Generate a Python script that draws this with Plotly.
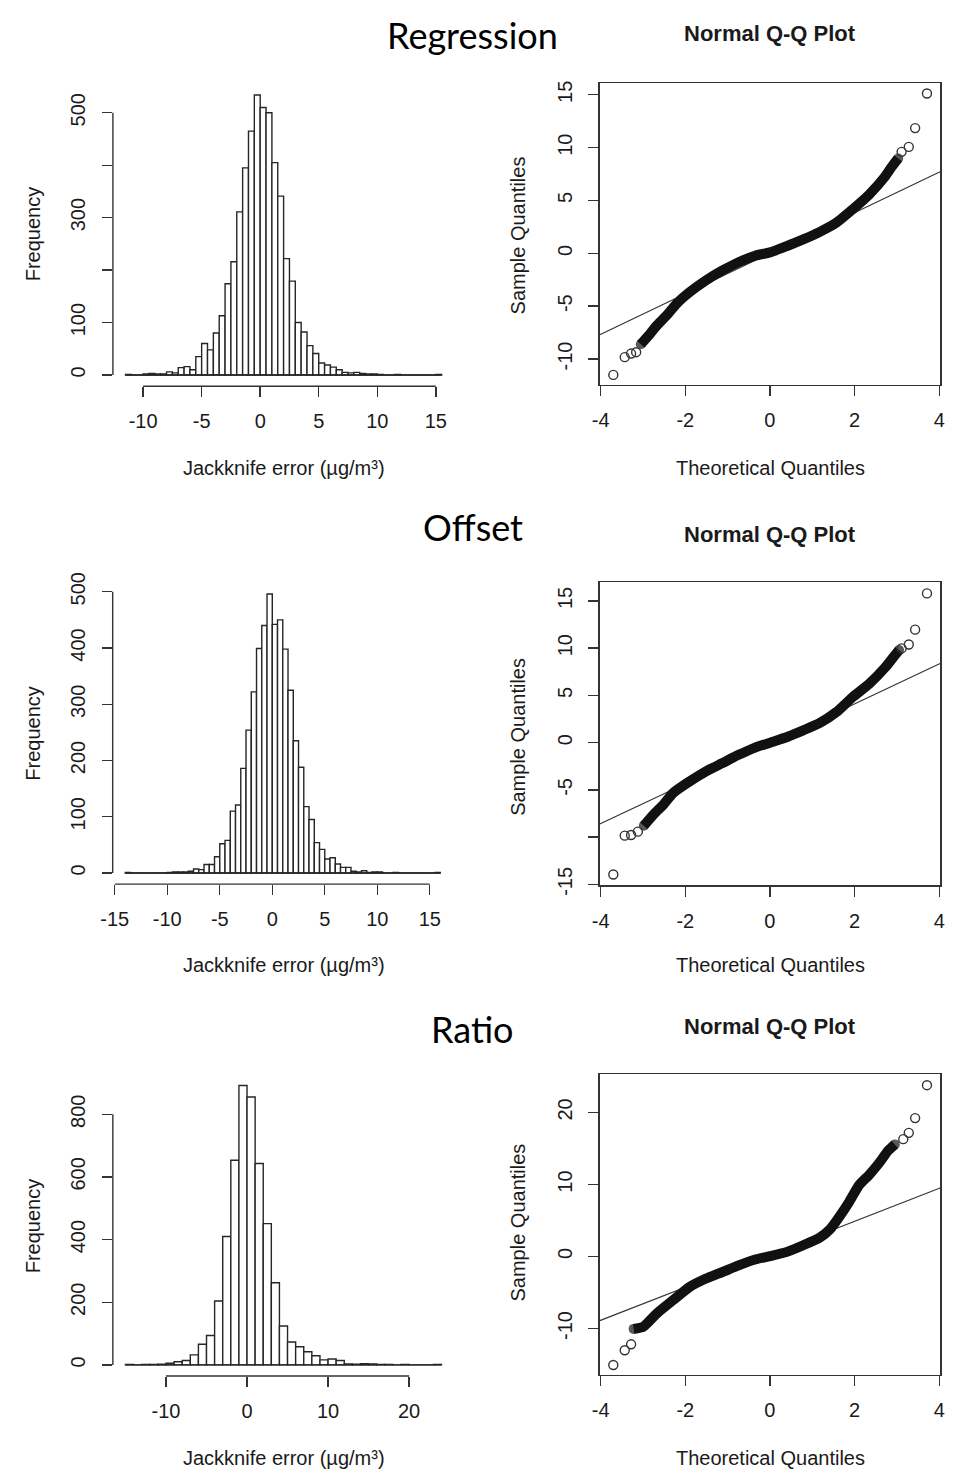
import plotly.graph_objects as go

W, H = 953, 1481

# ---------------- data ----------------
row_titles = ["Regression", "Offset", "Ratio"]
qq_title = "Normal Q-Q Plot"
hist_xlabel = "Jackknife error (µg/m³)"
hist_ylabel = "Frequency"
qq_xlabel = "Theoretical Quantiles"
qq_ylabel = "Sample Quantiles"

# histogram 1 : Regression (bins of 0.5 starting at -11.5)
reg_bin_start = -11.5
reg_bin_width = 0.5
reg_counts = [1, 0, 0, 2, 3, 2, 2, 6, 4, 14,
              16, 10, 35, 60, 48, 80, 113, 174, 216, 311,
              395, 465, 534, 510, 500, 405, 341, 222, 179, 100,
              82, 56, 41, 23, 19, 15, 10, 5, 4, 5,
              3, 2, 2, 1, 0, 0, 1, 0, 0, 0,
              0, 0, 0, 1]
reg_xticks = [-10, -5, 0, 5, 10, 15]
reg_yticks = [0, 100, 200, 300, 400, 500]
reg_ytext = ["0", "100", "", "300", "", "500"]

# histogram 2 : Offset (bins of 0.5 starting at -14)
off_bin_start = -14.0
off_bin_width = 0.5
off_counts = [1, 0, 0, 0, 0, 0, 0, 0, 1, 2,
              2, 2, 3, 7, 6, 15, 15, 29, 52, 58,
              110, 121, 186, 254, 322, 399, 440, 496, 442, 450,
              398, 325, 235, 188, 118, 95, 54, 42, 25, 27,
              16, 10, 10, 3, 2, 4, 1, 2, 2, 0,
              0, 1, 0, 0, 0, 0, 0, 0, 0, 1]
off_xticks = [-15, -10, -5, 0, 5, 10, 15]
off_yticks = [0, 100, 200, 300, 400, 500]
off_ytext = ["0", "100", "200", "300", "400", "500"]

# histogram 3 : Ratio (bins of 1 starting at -15)
rat_bin_start = -15.0
rat_bin_width = 1.0
rat_counts = [1, 0, 1, 1, 2, 5, 10, 14, 32, 66,
              94, 204, 410, 653, 892, 855, 643, 451, 262, 124,
              73, 58, 42, 29, 16, 19, 14, 3, 2, 4,
              3, 1, 1, 0, 1, 0, 0, 0, 1]
rat_xticks = [-10, 0, 10, 20]
rat_yticks = [0, 200, 400, 600, 800]
rat_ytext = ["0", "200", "400", "600", "800"]

# Q-Q plots: dense band of points (centre line) + isolated tail points + qqline
qq_xticks = [-4, -2, 0, 2, 4]

qq1_band_x = [-3.05, -2.82, -2.66, -2.43, -2.20, -1.89, -1.51, -1.12, -0.74, -0.35,
              0.0, 0.42, 0.80, 1.18, 1.57, 1.95, 2.34, 2.72, 2.88, 3.03]
qq1_band_y = [-8.6, -7.55, -6.77, -5.83, -4.74, -3.65, -2.56, -1.62, -0.84, -0.22,
              0.09, 0.72, 1.34, 2.03, 2.90, 4.15, 5.55, 7.27, 8.2, 8.98]
qq1_out_x = [-3.70, -3.43, -3.28, -3.16, 3.11, 3.28, 3.43, 3.71]
qq1_out_y = [-11.5, -9.82, -9.48, -9.35, 9.6, 10.07, 11.85, 15.12]
qq1_line_x = [-4.02, 4.02]
qq1_line_y = [-7.70, 7.73]
qq1_yticks = [-10, -5, 0, 5, 10, 15]
qq1_ytext = ["-10", "-5", "0", "5", "10", "15"]

qq2_band_x = [-2.98, -2.74, -2.51, -2.28, -1.89, -1.51, -1.12, -0.74, -0.35, 0.0,
              0.42, 0.80, 1.18, 1.57, 1.95, 2.34, 2.72, 2.95, 3.05]
qq2_band_y = [-8.8, -7.57, -6.52, -5.30, -4.08, -3.03, -2.16, -1.29, -0.52, 0.0,
              0.63, 1.33, 2.09, 3.24, 4.81, 6.21, 7.95, 9.25, 9.8]
qq2_out_x = [-3.70, -3.43, -3.28, -3.12, 3.11, 3.28, 3.43, 3.71]
qq2_out_y = [-13.95, -9.84, -9.77, -9.42, 9.98, 10.39, 11.96, 15.8]
qq2_line_x = [-4.02, 4.02]
qq2_line_y = [-8.62, 8.37]
qq2_yticks = [-15, -10, -5, 0, 5, 10, 15]
qq2_ytext = ["-15", "", "-5", "0", "5", "10", "15"]

qq3_band_x = [-3.22, -3.00, -2.89, -2.66, -2.28, -1.89, -1.51, -1.12, -0.74, -0.35,
              0.0, 0.42, 0.80, 1.18, 1.42, 1.65, 1.88, 2.11, 2.34, 2.57, 2.80, 2.95]
qq3_band_y = [-10.05, -9.8, -9.22, -7.85, -6.03, -4.2, -3.06, -2.15, -1.23, -0.41,
              0.05, 0.68, 1.60, 2.65, 3.79, 5.62, 7.67, 9.95, 11.32, 12.92, 14.75, 15.57]
qq3_out_x = [-3.70, -3.43, -3.28, 3.15, 3.28, 3.43, 3.71]
qq3_out_y = [-15.07, -13.01, -12.19, 16.3, 17.17, 19.22, 23.79]
qq3_line_x = [-4.02, 4.02]
qq3_line_y = [-8.9, 9.5]
qq3_yticks = [-10, 0, 10, 20]
qq3_ytext = ["-10", "0", "10", "20"]

# ---------------- layout geometry (pixels) ----------------
FONT = "Liberation Sans, Arial, sans-serif"
TXT = "#1a1a1a"
LINE = "#333333"

def fx(px):
    return px / W

def fy(py):
    return 1 - py / H

# (x zero px, px per unit, x range, y zero px, px per unit, y range)
geom = {
    1: (252.7, 11.92, [-12.58, 16.58], 369.5, 0.5324, [-21.4, 555.4]),
    2: (265.0, 10.69, [-15.2, 17.2], 875.0, 0.571, [-19.8, 515.8]),
    3: (239.3, 8.25, [-16.56, 25.56], 1374.3, 0.318, [-35.7, 927.7]),
    4: (771.7, 43.1, [-4.02, 4.02], 246.0, 10.73, [-12.42, 16.09]),
    5: (771.7, 43.1, [-4.02, 4.02], 742.7, 9.59, [-15.08, 16.97]),
    6: (771.7, 43.1, [-4.02, 4.02], 1264.3, 7.31, [-16.42, 25.35]),
}

def domains(k):
    x0, sx, xr, y0, sy, yr = geom[k]
    xd = [fx(x0 + xr[0] * sx), fx(x0 + xr[1] * sx)]
    yd = [fy(y0 - yr[0] * sy), fy(y0 - yr[1] * sy)]
    return xd, yd

fig = go.Figure()
layout = dict(width=W, height=H, margin=dict(l=0, r=0, t=0, b=0),
              paper_bgcolor="white", plot_bgcolor="white", showlegend=False)
shapes = []
annotations = []

tickfont = dict(family=FONT, size=20, color=TXT)

def axname(k, a):
    return a + ("axis" if k == 1 else "axis%d" % k)

def ref(k, a):
    return a if k == 1 else "%s%d" % (a, k)

hists = [
    (1, reg_bin_start, reg_bin_width, reg_counts, reg_xticks, reg_yticks, reg_ytext),
    (2, off_bin_start, off_bin_width, off_counts, off_xticks, off_yticks, off_ytext),
    (3, rat_bin_start, rat_bin_width, rat_counts, rat_xticks, rat_yticks, rat_ytext),
]

for k, start, width, counts, xt, yt, ytx in hists:
    xd, yd = domains(k)
    _, _, xr, _, _, yr = geom[k]
    centers = [start + width * (i + 0.5) for i in range(len(counts))]
    fig.add_trace(go.Bar(x=centers, y=counts, width=width,
                         marker=dict(color="white", line=dict(color="#262626", width=1.4)),
                         xaxis=ref(k, "x"), yaxis=ref(k, "y"), hoverinfo="skip"))
    end = start + width * len(counts)
    fig.add_trace(go.Scatter(x=[start, end], y=[0, 0], mode="lines",
                             line=dict(color="#262626", width=1.4),
                             xaxis=ref(k, "x"), yaxis=ref(k, "y"), hoverinfo="skip"))
    layout[axname(k, "x")] = dict(domain=xd, range=xr, anchor=ref(k, "y"),
                                  showline=False, showgrid=False, zeroline=False,
                                  ticks="outside", ticklen=10, tickwidth=1.4, tickcolor=LINE,
                                  tickvals=xt, ticktext=[str(v) for v in xt],
                                  tickfont=tickfont, ticklabelstandoff=7, fixedrange=True)
    layout[axname(k, "y")] = dict(domain=yd, range=yr, anchor=ref(k, "x"),
                                  showline=False, showgrid=False, zeroline=False,
                                  ticks="outside", ticklen=10, tickwidth=1.4, tickcolor=LINE,
                                  tickvals=yt, ticktext=ytx, tickangle=-90,
                                  tickfont=tickfont, ticklabelstandoff=9, fixedrange=True)
    shapes.append(dict(type="line", xref=ref(k, "x"), yref="paper",
                       x0=xt[0], x1=xt[-1], y0=yd[0], y1=yd[0],
                       line=dict(color=LINE, width=1.4)))
    shapes.append(dict(type="line", xref="paper", yref=ref(k, "y"),
                       x0=xd[0], x1=xd[0], y0=yt[0], y1=yt[-1],
                       line=dict(color=LINE, width=1.4)))

qqs = [
    (4, qq1_band_x, qq1_band_y, qq1_out_x, qq1_out_y, qq1_line_x, qq1_line_y, qq1_yticks, qq1_ytext),
    (5, qq2_band_x, qq2_band_y, qq2_out_x, qq2_out_y, qq2_line_x, qq2_line_y, qq2_yticks, qq2_ytext),
    (6, qq3_band_x, qq3_band_y, qq3_out_x, qq3_out_y, qq3_line_x, qq3_line_y, qq3_yticks, qq3_ytext),
]

for k, bx, by, ox, oy, lx, ly, yt, ytx in qqs:
    xd, yd = domains(k)
    _, _, xr, _, _, yr = geom[k]
    fig.add_trace(go.Scatter(x=lx, y=ly, mode="lines", line=dict(color="#333333", width=1.1),
                             xaxis=ref(k, "x"), yaxis=ref(k, "y"), hoverinfo="skip"))
    # round the ends of the dense band with filled dots at its first / last point
    end_sizes = [10] + [0] * (len(bx) - 2) + [10]
    fig.add_trace(go.Scatter(x=bx, y=by, mode="lines+markers",
                             line=dict(color="#111111", width=10, shape="spline", smoothing=0.6),
                             marker=dict(size=end_sizes, color="#111111", line=dict(width=0)),
                             xaxis=ref(k, "x"), yaxis=ref(k, "y"), hoverinfo="skip"))
    fig.add_trace(go.Scatter(x=ox, y=oy, mode="markers",
                             marker=dict(symbol="circle-open", size=9, color="#333333",
                                         line=dict(width=1.4)),
                             xaxis=ref(k, "x"), yaxis=ref(k, "y"), hoverinfo="skip"))
    layout[axname(k, "x")] = dict(domain=xd, range=xr, anchor=ref(k, "y"),
                                  showline=True, mirror=True, linecolor=LINE, linewidth=1.4,
                                  showgrid=False, zeroline=False,
                                  ticks="outside", ticklen=10, tickwidth=1.4, tickcolor=LINE,
                                  tickvals=qq_xticks, ticktext=[str(v) for v in qq_xticks],
                                  tickfont=tickfont, ticklabelstandoff=7, fixedrange=True)
    layout[axname(k, "y")] = dict(domain=yd, range=yr, anchor=ref(k, "x"),
                                  showline=True, mirror=True, linecolor=LINE, linewidth=1.4,
                                  showgrid=False, zeroline=False,
                                  ticks="outside", ticklen=10, tickwidth=1.4, tickcolor=LINE,
                                  tickvals=yt, ticktext=ytx, tickangle=-90,
                                  tickfont=tickfont, ticklabelstandoff=8, fixedrange=True)

# ---------------- text ----------------
lab = dict(family=FONT, size=20, color=TXT)
row_title_y = [24, 524, 1033]
qq_title_y = [23, 531, 1031]
xlab_y = [464, 968, 1469]
ylab_y_hist = [226, 733, 1233]
ylab_y_qq = [228, 737, 1230]

for i in range(3):
    annotations.append(dict(text=row_titles[i], x=fx(469), y=fy(row_title_y[i]),
                            xref="paper", yref="paper", showarrow=False,
                            xanchor="center", yanchor="middle",
                            font=dict(family="Lato, Carlito, Calibri, sans-serif", size=36, color="black")))
    annotations.append(dict(text="<b>%s</b>" % qq_title, x=fx(772), y=fy(qq_title_y[i]),
                            xref="paper", yref="paper", showarrow=False,
                            xanchor="center", yanchor="middle",
                            font=dict(family=FONT, size=22, color=TXT)))
    annotations.append(dict(text=hist_xlabel, x=fx(277), y=fy(xlab_y[i]),
                            xref="paper", yref="paper", showarrow=False,
                            xanchor="center", yanchor="middle", font=lab))
    annotations.append(dict(text=qq_xlabel, x=fx(772), y=fy(xlab_y[i]),
                            xref="paper", yref="paper", showarrow=False,
                            xanchor="center", yanchor="middle", font=lab))
    annotations.append(dict(text=hist_ylabel, x=fx(21), y=fy(ylab_y_hist[i]),
                            xref="paper", yref="paper", showarrow=False, textangle=-90,
                            xanchor="center", yanchor="middle", font=lab))
    annotations.append(dict(text=qq_ylabel, x=fx(515), y=fy(ylab_y_qq[i]),
                            xref="paper", yref="paper", showarrow=False, textangle=-90,
                            xanchor="center", yanchor="middle", font=lab))

layout["shapes"] = shapes
layout["annotations"] = annotations
fig.update_layout(**layout)
fig.write_html("out.html", config={"displayModeBar": False, "staticPlot": True},
               post_script="document.body.style.margin='0px';document.body.style.overflow='hidden';")
